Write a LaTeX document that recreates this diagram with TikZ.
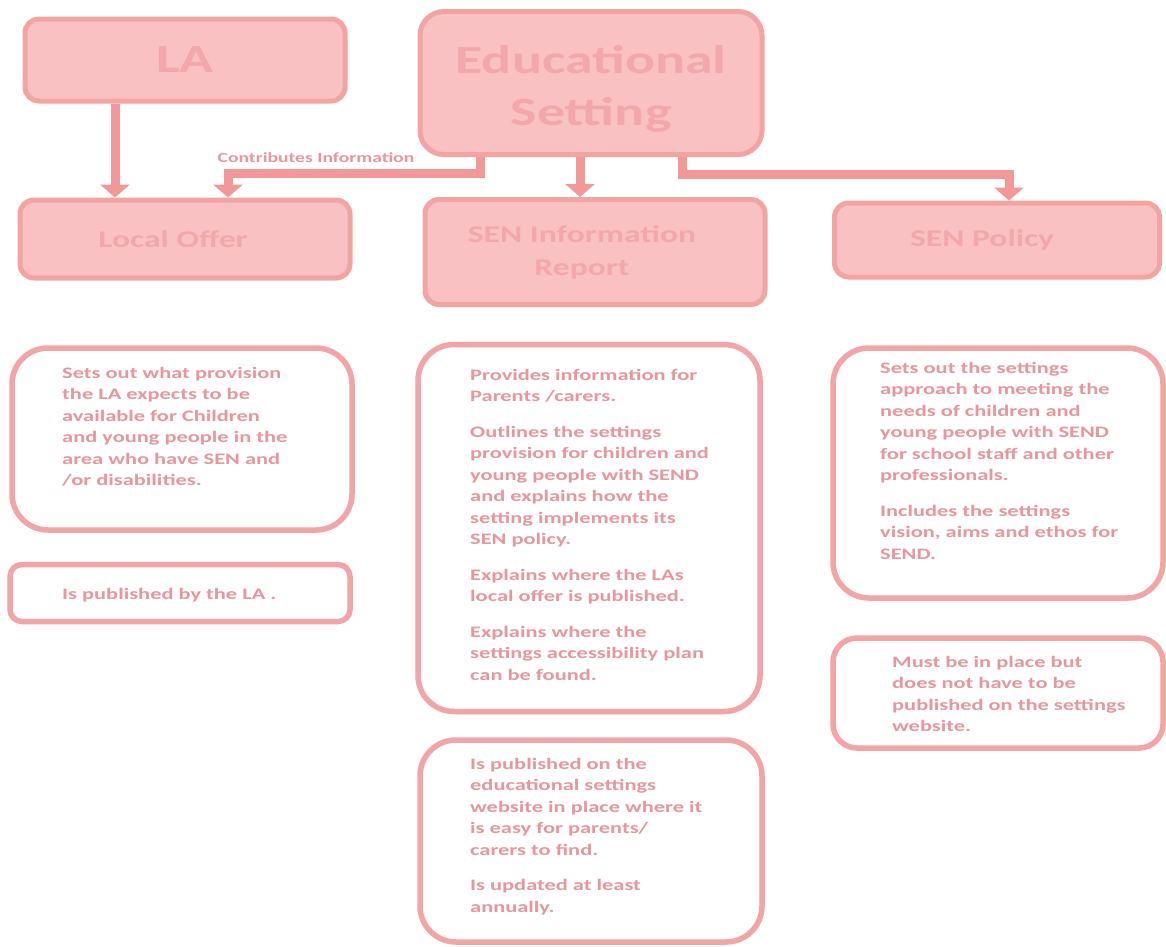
\documentclass[tikz,border=0pt]{standalone}
\usepackage{fontspec}
\setmainfont{Carlito}[FakeStretch=1.4]
\usetikzlibrary{arrows.meta}
\definecolor{boxfill}{HTML}{F9C1C1}
\definecolor{boxline}{HTML}{F4A3A3}
\definecolor{headtext}{HTML}{F2A8AB}
\definecolor{bodytext}{HTML}{E8969B}
\definecolor{infoline}{HTML}{F2A4A7}
\definecolor{flowcol}{HTML}{F39898}
\tikzset{
	topbox/.style={draw=boxline, fill=boxfill, line width=5pt, rounded corners=14pt, text=headtext, align=center, font=\bfseries},
	infobox/.style={draw=infoline, fill=white, line width=5.5pt, rounded corners=36pt},
	infotext/.style={anchor=north west, align=left, inner sep=0pt, text=bodytext, font=\fontsize{16}{21.5}\selectfont\bfseries},
	flow/.style={draw=flowcol, line width=9pt, -{Triangle[width=29pt,length=13pt]}}
}
\begin{document}
\begin{tikzpicture}[x=1pt, y=-1pt]
	\path[fill=white] (0,0) rectangle (1166,946);
	\useasboundingbox (0,0) rectangle (1166,946);

	% top row
	\node[topbox, minimum width=320pt, minimum height=82pt, font=\fontsize{40}{42}\selectfont\bfseries] (la) at (185,60) {LA};
	\node[topbox, minimum width=342pt, minimum height=143pt, rounded corners=24pt, font=\fontsize{40}{52}\selectfont\bfseries] (edu) at (591,83) {\rule{0pt}{40pt}Educational\\Setting};
	\node[topbox, minimum width=330pt, minimum height=78pt, font=\fontsize{24}{33}\selectfont\bfseries] (lo) at (185,239) {Local Offer\rule{24pt}{0pt}};
	\node[topbox, minimum width=340pt, minimum height=105pt, font=\fontsize{24}{33}\selectfont\bfseries] (sen) at (595,252) {SEN Information\rule{26pt}{0pt}\\Report\rule{26pt}{0pt}};
	\node[topbox, minimum width=325pt, minimum height=74pt, font=\fontsize{24}{33}\selectfont\bfseries] (pol) at (997,240) {SEN Policy\rule{30pt}{0pt}};

	\draw[flow] ([xshift=-70pt]la.south) -- ([xshift=-70pt]lo.north);
	\draw[flow] ([xshift=-111pt]edu.south) -- ++(0,16) -| ([xshift=43pt]lo.north);
	\draw[flow] ([xshift=-11pt]edu.south) -- ([xshift=-15pt]sen.north);
	\draw[flow] ([xshift=91pt]edu.south) -- ++(0,17) -| ([xshift=12pt]pol.north);
	\node[text=bodytext, font=\fontsize{14}{16}\selectfont\bfseries] (contrib) at (316,158) {Contributes Information};

	% description boxes
	\node[infobox, minimum width=340pt, minimum height=182pt] (lodesc) at (182,439) {};
	\node[infotext] (lotext) at (62,367) {Sets out what provision\\the LA expects to be\\available for Children\\and young people in the\\area who have SEN and\\/or disabilities.};
	\node[infobox, minimum width=340pt, minimum height=57pt, rounded corners=12pt] (lopub) at (180,593) {};
	\node[infotext, anchor=west] (lopubtext) at (62,595) {Is published by the LA .};

	\node[infobox, minimum width=342pt, minimum height=367pt] (sendesc) at (589,528) {};
	\node[infotext] (sentext) at (470,369) {Provides information for\\Parents /carers.\\[14pt]
		Outlines the settings\\provision for children and\\young people with SEND\\and explains how the\\setting implements its\\SEN policy.\\[14pt]
		Explains where the LAs\\local offer is published.\\[14pt]
		Explains where the\\settings accessibility plan\\can be found.};
	\node[infobox, minimum width=342pt, minimum height=202pt] (senpub) at (591,841) {};
	\node[infotext] (senpubtext) at (470,758) {Is published on the\\educational settings\\website in place where it\\is easy for parents/\\carers to find.\\[14pt]
		Is updated at least\\annually.};

	\node[infobox, minimum width=330pt, minimum height=250pt] (poldesc) at (998,473) {};
	\node[infotext] (poltext) at (880,362) {Sets out the settings\\approach to meeting the\\needs of children and\\young people with SEND\\for school staff and other\\professionals.\\[14pt]
		Includes the settings\\vision, aims and ethos for\\SEND.};
	\node[infobox, minimum width=330pt, minimum height=110pt, rounded corners=24pt] (polpub) at (998,693) {};
	\node[infotext] (polpubtext) at (892,656) {Must be in place but\\does not have to be\\published on the settings\\website.};
\end{tikzpicture}
\end{document}
